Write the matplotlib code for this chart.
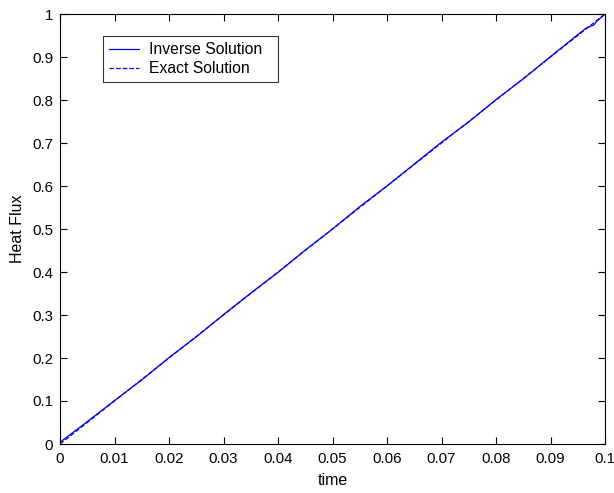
import matplotlib
matplotlib.use("Agg")
import matplotlib.pyplot as plt
import numpy as np

plt.rcParams['font.family'] = ['Liberation Sans', 'DejaVu Sans']

# data
time = [0.000, 0.005, 0.010, 0.015, 0.020, 0.025, 0.030, 0.035, 0.040, 0.045, 0.050,
        0.055, 0.060, 0.065, 0.070, 0.075, 0.080, 0.085, 0.090, 0.095, 0.0965, 0.098, 0.0985, 0.100]
inverse = [0.004, 0.052, 0.101, 0.149, 0.201, 0.249, 0.301, 0.351, 0.399, 0.451, 0.500,
           0.552, 0.600, 0.651, 0.702, 0.749, 0.801, 0.849, 0.901, 0.952, 0.967, 0.975, 0.983, 1.000]
exact_t = [0.0, 0.1]
exact = [0.0, 1.0]

xticks = [0, 0.01, 0.02, 0.03, 0.04, 0.05, 0.06, 0.07, 0.08, 0.09, 0.1]
xlabels = ['0', '0.01', '0.02', '0.03', '0.04', '0.05', '0.06', '0.07', '0.08', '0.09', '0.1']
yticks = [0, 0.1, 0.2, 0.3, 0.4, 0.5, 0.6, 0.7, 0.8, 0.9, 1]
ylabels = ['0', '0.1', '0.2', '0.3', '0.4', '0.5', '0.6', '0.7', '0.8', '0.9', '1']

fig = plt.figure(figsize=(6.14, 4.93), dpi=100)
ax = fig.add_axes([60 / 614, 1 - 444 / 493, 545 / 614, 430 / 493])

ax.plot(time, inverse, '-', color='#0000ff', lw=0.9, label='Inverse Solution  ')
ax.plot(exact_t, exact, '--', color='#0000ff', lw=0.9, label='Exact Solution  ')

ax.set_xlim(0, 0.1)
ax.set_ylim(0, 1)
ax.set_xticks(xticks)
ax.set_xticklabels(xlabels)
ax.set_yticks(yticks)
ax.set_yticklabels(ylabels)
ax.tick_params(direction='in', top=True, right=True, length=5, labelsize=10.8, width=0.8)
ax.tick_params(axis='x', pad=6)
ax.tick_params(axis='y', pad=5)
for s in ax.spines.values():
    s.set_linewidth(0.8)

ax.set_xlabel('time', fontsize=11.5, labelpad=5)
ax.set_ylabel('Heat Flux', fontsize=11.5, labelpad=5)

leg = ax.legend(loc='upper left', bbox_to_anchor=(43 / 545, 1 - 22 / 430), fontsize=11.3,
                frameon=True, fancybox=False, edgecolor='black', handlelength=1.9,
                borderpad=0.4, labelspacing=0.25, handletextpad=0.65, borderaxespad=0)
leg.get_frame().set_linewidth(0.8)

fig.savefig('out.png', dpi=100)
